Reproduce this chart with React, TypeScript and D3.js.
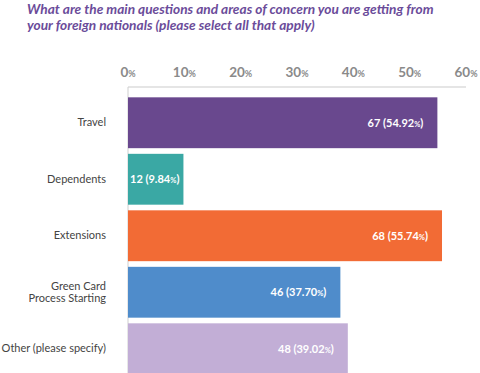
import { useEffect, useRef } from 'react';
import * as d3 from 'd3';

const categories = ['Travel', 'Dependents', 'Extensions', 'Green Card\nProcess Starting', 'Other (please specify)'];
const counts = [67, 12, 68, 46, 48];
const percents = [54.92, 9.84, 55.74, 37.7, 39.02];
const colors = ['#69488e', '#3aa8a4', '#f26b35', '#4f8ccb', '#c2aed6'];
const xTicks = [0, 10, 20, 30, 40, 50, 60];
const titleLines = [
  'What are the main questions and areas of concern you are getting from',
  'your foreign nationals (please select all that apply)'
];

const width = 480;
const height = 373;
const font = 'Lato, "Open Sans", sans-serif';

const App = () => {
  const chartRef = useRef<SVGSVGElement | null>(null);

  useEffect(() => {
    if (!chartRef.current) return;
    const svg = d3.select(chartRef.current);
    svg.selectAll('*').remove();

    const x = d3.scaleLinear().domain([0, 60]).range([128, 466]);
    const y = d3
      .scaleBand()
      .domain(categories)
      .range([94.5, 377])
      .paddingInner(0.1)
      .paddingOuter(0.05);

    // title
    svg
      .append('g')
      .selectAll('text')
      .data(titleLines)
      .join('text')
      .attr('x', 27)
      .attr('y', (_, i) => 13.5 + i * 16)
      .attr('fill', '#6b4c9a')
      .style('font-family', font)
      .style('font-size', '13.7px')
      .style('font-weight', 'bold')
      .style('font-style', 'italic')
      .text((d) => d);

    // axis line + left baseline
    svg
      .append('line')
      .attr('x1', x(0))
      .attr('x2', x(60))
      .attr('y1', 87)
      .attr('y2', 87)
      .attr('stroke', '#dcdcdc')
      .attr('stroke-width', 1.5);
    svg
      .append('line')
      .attr('x1', x(0))
      .attr('x2', x(0))
      .attr('y1', 87)
      .attr('y2', height)
      .attr('stroke', '#cfcfcf')
      .attr('stroke-width', 1);

    // tick labels
    const tick = svg
      .append('g')
      .selectAll('text')
      .data(xTicks)
      .join('text')
      .attr('x', (d) => x(d))
      .attr('y', 77)
      .attr('text-anchor', 'middle')
      .attr('fill', '#8a8a8a')
      .style('font-family', font)
      .style('font-size', '13.5px')
      .style('font-weight', 'bold');
    tick.append('tspan').text((d) => d);
    tick.append('tspan').style('font-size', '9px').text('%');

    // bars
    svg
      .append('g')
      .selectAll('rect')
      .data(categories)
      .join('rect')
      .attr('x', x(0))
      .attr('y', (d) => y(d) || 0)
      .attr('width', (_, i) => x(percents[i]) - x(0))
      .attr('height', y.bandwidth())
      .attr('fill', (_, i) => colors[i]);

    // category labels
    categories.forEach((cat) => {
      const lines = cat.split('\n');
      const cy = (y(cat) || 0) + y.bandwidth() / 2;
      const t = svg
        .append('text')
        .attr('x', 106)
        .attr('text-anchor', 'end')
        .attr('fill', '#444')
        .style('font-family', font)
        .style('font-size', '11px');
      lines.forEach((line, j) => {
        t.append('tspan')
          .attr('x', 106)
          .attr('y', cy + 3.5 + (j - (lines.length - 1) / 2) * 12)
          .text(line);
      });
    });

    // value labels
    categories.forEach((cat, i) => {
      const barW = x(percents[i]) - x(0);
      const narrow = barW < 80;
      const t = svg
        .append('text')
        .attr('x', narrow ? x(0) + 2 : x(percents[i]) - 14)
        .attr('y', (y(cat) || 0) + y.bandwidth() / 2 + 4)
        .attr('text-anchor', narrow ? 'start' : 'end')
        .attr('fill', '#fff')
        .style('font-family', font)
        .style('font-size', '11px')
        .style('font-weight', 'bold');
      t.append('tspan').text(`${counts[i]} (${percents[i].toFixed(2)}`);
      t.append('tspan').style('font-size', '7.5px').text('%');
      t.append('tspan').text(')');
    });
  }, []);

  return (
    <svg
      ref={chartRef}
      width={width}
      height={height}
      style={{ position: 'absolute', left: 0, top: 0, background: '#fff', display: 'block' }}
    />
  );
};

export default App;
